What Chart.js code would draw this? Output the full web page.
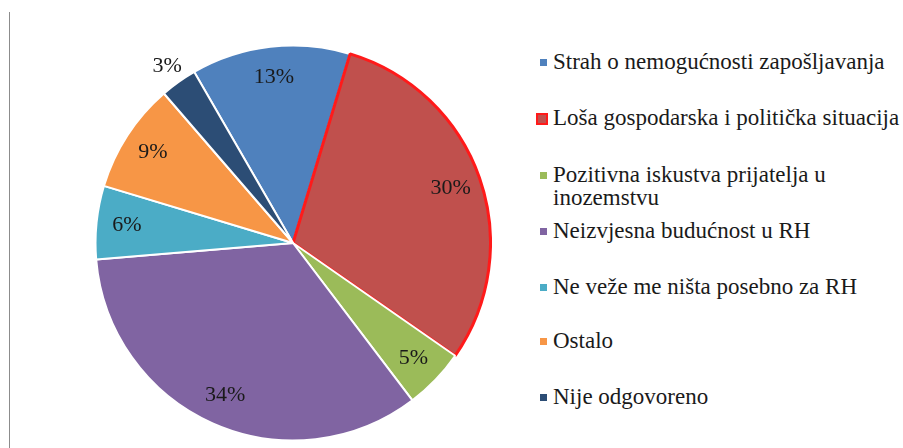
<!DOCTYPE html>
<html>
<head>
<meta charset="utf-8">
<script src="https://cdn.jsdelivr.net/npm/chart.js@4.4.1/dist/chart.umd.min.js"></script>
<style>
  html, body { margin: 0; padding: 0; background: #fff; }
  body { width: 903px; height: 448px; position: relative; overflow: hidden; }
  #frame { position: absolute; left: 9px; top: 12px; width: 1px; height: 436px; background: #8c8c8c; }
  #wrap { position: absolute; left: 94px; top: 44px; width: 398px; height: 398px; }
  #legend { position: absolute; left: 536px; top: 0; width: 367px; height: 448px; }
  .item { position: absolute; left: 0; display: flex; align-items: flex-start; font-family: 'Liberation Serif', 'Tinos', serif; font-size: 23px; line-height: 23px; color: #1a1a1a; white-space: nowrap; }
  .mk { flex: none; box-sizing: border-box; }
</style>
</head>
<body>
<div id="frame"></div>
<div id="wrap"><canvas id="c"></canvas></div>
<div id="legend"></div>
<script>
const categories = [
  "Strah o nemogućnosti zapošljavanja",
  "Loša gospodarska i politička situacija",
  "Pozitivna iskustva prijatelja u inozemstvu",
  "Neizvjesna budućnost u RH",
  "Ne veže me ništa posebno za RH",
  "Ostalo",
  "Nije odgovoreno"
];
const legendLines = [
  ["Strah o nemogućnosti zapošljavanja"],
  ["Loša gospodarska i politička situacija"],
  ["Pozitivna iskustva prijatelja u", "inozemstvu"],
  ["Neizvjesna budućnost u RH"],
  ["Ne veže me ništa posebno za RH"],
  ["Ostalo"],
  ["Nije odgovoreno"]
];
const values = [13, 30, 5, 34, 6, 9, 3];
const colors = ["#4F81BD", "#C0504D", "#9BBB59", "#8064A2", "#4BACC6", "#F79646", "#2C4D75"];
const borderColors = ["#ffffff", "#FF1A1A", "#ffffff", "#ffffff", "#ffffff", "#ffffff", "#ffffff"];
const borderWidths = [2, 3, 2, 2, 2, 2, 2];

const labelPlugin = {
  id: 'pctLabels',
  afterDatasetsDraw(chart) {
    const ctx = chart.ctx;
    const meta = chart.getDatasetMeta(0);
    const data = chart.data.datasets[0].data;
    ctx.save();
    ctx.font = "22px 'Liberation Serif', 'Tinos', serif";
    ctx.fillStyle = '#1a1a1a';
    ctx.textAlign = 'center';
    ctx.textBaseline = 'middle';
    meta.data.forEach((arc, i) => {
      const p = arc.getProps(['x', 'y', 'startAngle', 'endAngle', 'outerRadius'], true);
      const mid = (p.startAngle + p.endAngle) / 2;
      const r = data[i] < 4 ? p.outerRadius * 1.10 : p.outerRadius * 0.845;
      ctx.fillText(data[i] + '%', p.x + Math.cos(mid) * r, p.y + Math.sin(mid) * r);
    });
    ctx.restore();
  }
};

new Chart(document.getElementById('c'), {
  type: 'pie',
  data: {
    labels: categories,
    datasets: [{
      data: values,
      backgroundColor: colors,
      borderColor: borderColors,
      borderWidth: borderWidths
    }]
  },
  options: {
    responsive: true,
    maintainAspectRatio: false,
    animation: false,
    rotation: -30,
    layout: { padding: 0 },
    plugins: { legend: { display: false }, tooltip: { enabled: false } }
  },
  plugins: [labelPlugin]
});

// HTML legend built from the arrays
const legendTops = [50, 106, 163, 219, 275, 329, 385];
const lg = document.getElementById('legend');
legendLines.forEach((lines, i) => {
  const it = document.createElement('div');
  it.className = 'item';
  it.style.top = legendTops[i] + 'px';
  const mk = document.createElement('span');
  mk.className = 'mk';
  if (i === 1) {
    mk.style.width = '12px'; mk.style.height = '12px';
    mk.style.background = colors[i];
    mk.style.border = '2px solid ' + borderColors[i];
    mk.style.marginTop = '7px';
    mk.style.marginLeft = '0px';
    mk.style.marginRight = '5px';
  } else {
    mk.style.width = '7px'; mk.style.height = '7px';
    mk.style.background = colors[i];
    mk.style.marginTop = '9px';
    mk.style.marginLeft = '4px';
    mk.style.marginRight = '6px';
  }
  const tx = document.createElement('span');
  tx.innerHTML = lines.join('<br>');
  it.appendChild(mk);
  it.appendChild(tx);
  lg.appendChild(it);
});
</script>
</body>
</html>
